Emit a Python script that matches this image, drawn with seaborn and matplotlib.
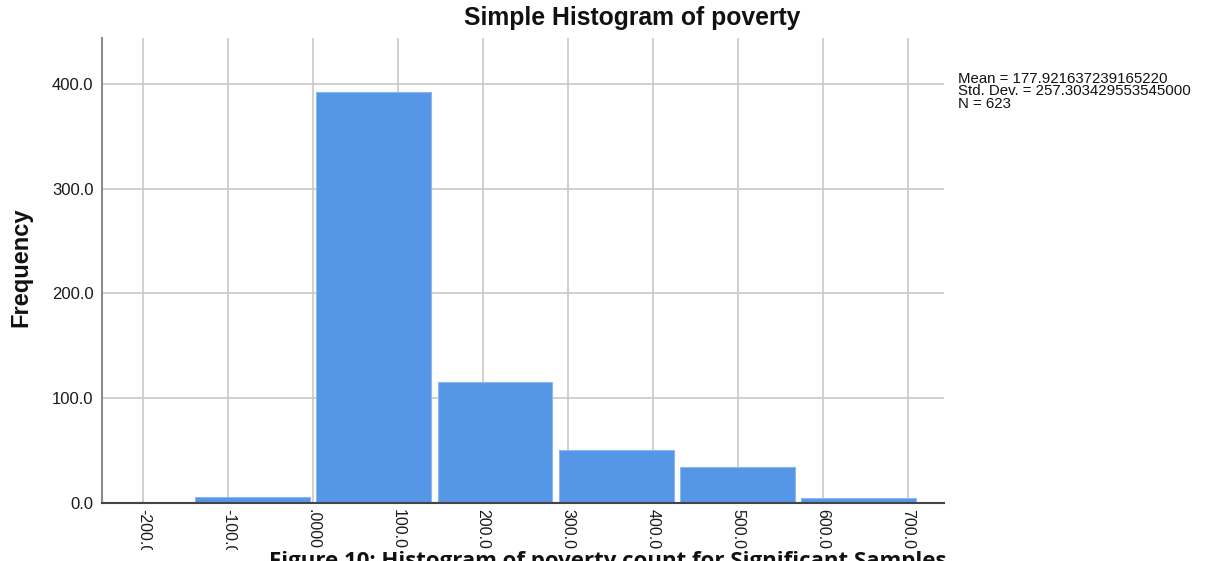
import matplotlib
matplotlib.use("Agg")
import matplotlib.pyplot as plt
import seaborn as sns
import numpy as np
import pandas as pd
from matplotlib.patches import Rectangle

# ---- data ----
bin_edges = [-142.7, 0.0, 142.7, 285.4, 428.1, 570.8, 713.5]
bin_counts = [6, 392, 115, 50, 34, 5]
x_ticks = [-200, -100, 0, 100, 200, 300, 400, 500, 600, 700]
x_tick_labels = ["-200.0", "-100.0", ".0000", "100.0", "200.0", "300.0",
                 "400.0", "500.0", "600.0", "700.0"]
y_ticks = [0, 100, 200, 300, 400]
y_tick_labels = ["0.0", "100.0", "200.0", "300.0", "400.0"]
stats_lines = ["Mean = 177.921637239165220",
               "Std. Dev. = 257.303429553545000",
               "N = 623"]
title = "Simple Histogram of poverty"
y_label = "Frequency"
caption = "Figure 10: Histogram of poverty count for Significant Samples"

centers = [(a + b) / 2 for a, b in zip(bin_edges[:-1], bin_edges[1:])]
df = pd.DataFrame({"poverty": centers, "count": bin_counts})

sns.set_theme(style="white")
plt.rcParams['font.family'] = ['Liberation Sans', 'DejaVu Sans']

W, H = 1225, 561
fig = plt.figure(figsize=(W / 100, H / 100), dpi=100)
ax = fig.add_axes([0.083, 0.1037, 0.688, 0.8291])

sns.histplot(data=df, x="poverty", weights="count", bins=bin_edges,
             shrink=0.947, color="#5596E6", alpha=1.0,
             edgecolor="#8DB7EE", linewidth=0.8, ax=ax, zorder=3)

ax.set_xlim(-249, 743)
ax.set_ylim(0, 444)
ax.set_xticks(x_ticks)
ax.set_xticklabels(x_tick_labels, rotation=270, fontsize=11.5, color="#1a1a1a")
ax.set_yticks(y_ticks)
ax.set_yticklabels(y_tick_labels, fontsize=12, color="#1a1a1a")
ax.tick_params(axis="x", length=0, pad=4.5)
ax.tick_params(axis="y", length=0, pad=6)
ax.grid(True, color="#C8C8C8", linewidth=1.2, zorder=0)
ax.set_axisbelow(True)
for s in ["top", "right"]:
    ax.spines[s].set_visible(False)
ax.spines["left"].set_color("#8C8C8C")
ax.spines["left"].set_linewidth(1.5)
ax.spines["bottom"].set_color("#444444")
ax.spines["bottom"].set_linewidth(1.5)
ax.spines["bottom"].set_zorder(5)
ax.set_xlabel("")
ax.set_ylabel("")

fig.text(632 / W, 1 - 18 / H, title, fontsize=17.8, fontweight="bold",
         ha="center", va="center", color="#111111")
fig.text(21 / W, 1 - 267 / H, y_label, fontsize=17, fontweight="bold",
         rotation=90, ha="center", va="center", color="#111111")

fig.text(958 / W, 1 - 72 / H, "\n".join(stats_lines), fontsize=10.8,
         va="top", ha="left", linespacing=0.86, color="#111111")

# caption strip at the bottom (cut off by the image edge, as in the reference)
fig.patches.append(Rectangle((0, 0), 1, 11.5 / H, transform=fig.transFigure,
                             facecolor="white", edgecolor="none", zorder=10))
fig.text(608 / W, 1 - 551 / H, caption, fontsize=16, fontweight="bold",
         ha="center", va="top", family=["Open Sans", "DejaVu Sans"],
         color="#111111", zorder=11)

fig.savefig("out.png", dpi=100)
